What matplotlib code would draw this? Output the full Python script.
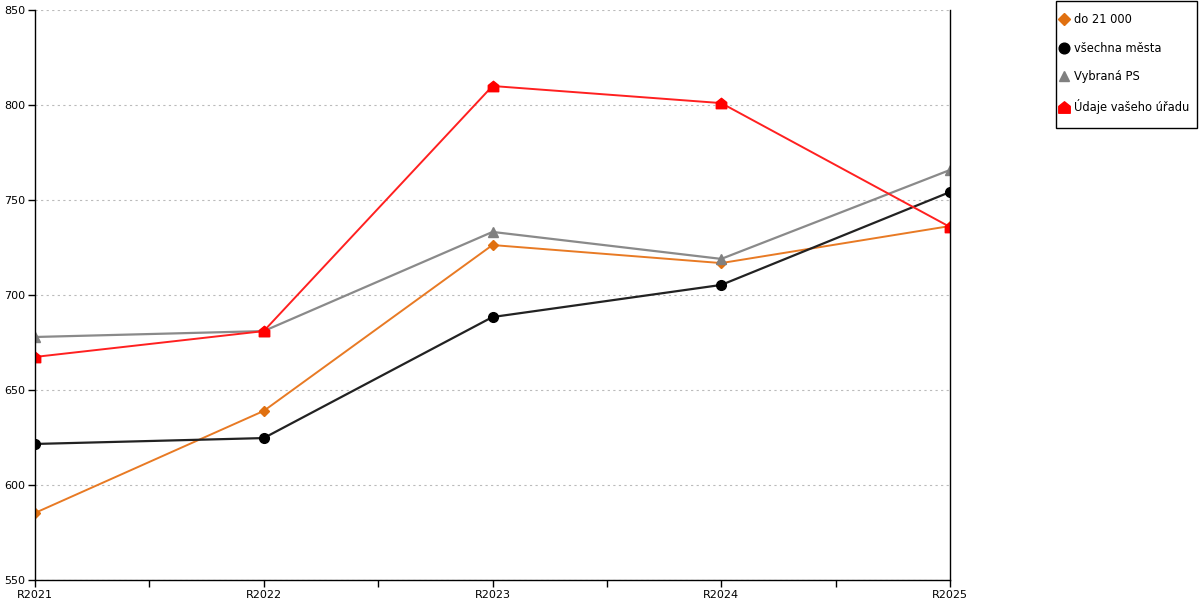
import matplotlib.pyplot as plt
import numpy as np
from matplotlib.path import Path
from matplotlib.patches import Rectangle

# Data
years = ['R2021', 'R2022', 'R2023', 'R2024', 'R2025']
do_21000 = [585.3, 639.0, 726.3, 716.8, 736.3]
vsechna_mesta = [621.6, 624.7, 688.4, 705.3, 754.2]
vybrana_ps = [677.9, 681.0, 733.2, 719.0, 765.8]
vas_urad = [667.4, 681.0, 810.0, 801.0, 735.8]

# house-shaped marker for the office series
house = Path([(-1, -1), (1, -1), (1, 0.2), (0, 1), (-1, 0.2), (-1, -1)],
             [Path.MOVETO, Path.LINETO, Path.LINETO, Path.LINETO, Path.LINETO, Path.CLOSEPOLY])

plt.rcParams['font.family'] = ['DejaVu Sans']

fig = plt.figure(figsize=(12, 6), dpi=100)
ax = fig.add_axes([35 / 1200, 20 / 600, 915 / 1200, 570 / 600])

x = np.arange(len(years))
ax.plot(x, do_21000, color='#e87a24', lw=1.4, marker='D', ms=5.5, mfc='#e07010', mec='#e07010', label='do 21 000')
ax.plot(x, vsechna_mesta, color='#222222', lw=1.6, marker='o', ms=7, mfc='black', mec='black', label='všechna města')
ax.plot(x, vybrana_ps, color='#8a8a8a', lw=1.6, marker='^', ms=7, mfc='#808080', mec='#808080', label='Vybraná PS')
ax.plot(x, vas_urad, color='#ff2020', lw=1.4, marker=house, ms=7.5, mfc='red', mec='red', label='Údaje vašeho úřadu')

ax.set_xlim(0, len(years) - 1)
ax.set_ylim(550, 850)
ax.set_yticks(np.arange(550, 851, 50))
ax.set_xticks(x)
ax.set_xticklabels(years)
ax.set_xticks(x[:-1] + 0.5, minor=True)

ax.grid(axis='y', color='#bbbbbb', ls=(0, (2, 3)), lw=0.8)
ax.set_axisbelow(True)
ax.spines['top'].set_visible(False)
for s in ['left', 'bottom', 'right']:
    ax.spines[s].set_color('black')
    ax.spines[s].set_linewidth(1)

ax.tick_params(axis='both', labelsize=8, direction='out', length=5, width=1, colors='black', pad=2)
ax.tick_params(axis='x', which='minor', length=5, width=1)
ax.tick_params(axis='y', right=False)

# legend without its own frame, box drawn separately
leg = fig.legend(loc='upper left', bbox_to_anchor=(1060.5 / 1200, 587 / 600), frameon=False,
                 fontsize=8.3, handlelength=0.6, handletextpad=0.6,
                 labelspacing=1.35, borderpad=0, borderaxespad=0, markerscale=1.1)
for h in leg.get_lines():
    h.set_linestyle('None')
fig.patches.append(Rectangle((1055.5 / 1200, 472.5 / 600), 141 / 1200, 127 / 600,
                             transform=fig.transFigure, fill=False, edgecolor='black', lw=1))

fig.savefig('out.png', dpi=100)
